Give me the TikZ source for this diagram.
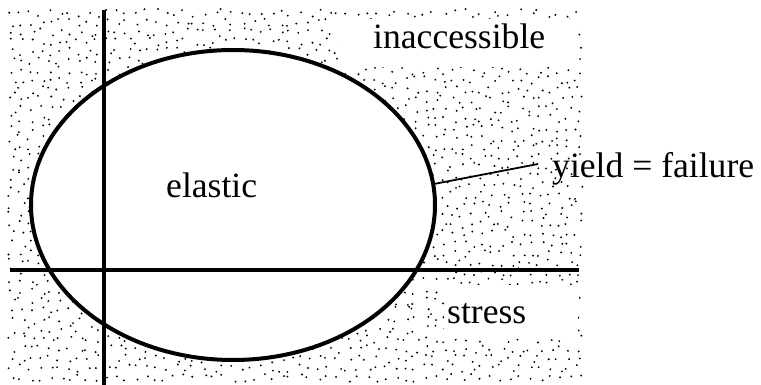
\documentclass[tikz,border=0pt]{standalone}
\usepackage{fontspec}
\setmainfont{Liberation Serif}
\usetikzlibrary{shapes.geometric}
\begin{document}
\begin{tikzpicture}[x=1pt,y=-1pt,
  lbl/.style={font=\fontsize{35.6}{40}\selectfont, inner sep=0pt},
  heavy/.style={line width=4pt},
  whitebox/.style={fill=white, draw=none}]
\useasboundingbox (0,0) rectangle (761,385);
% stipple (jittered grid)
\pgfmathsetseed{7}
\foreach \gx in {0,...,59}{
  \foreach \gy in {0,...,38}{
    \fill ({12+\gx*9.6+8*rnd-4},{13+\gy*9.6+8*rnd-4}) circle (1.05pt);
  }
}
% ellipse interior
\node[ellipse, minimum width=404pt, minimum height=310pt, inner sep=0pt, fill=white] (el) at (233,205) {};
% white label areas
\fill[whitebox] (338,19) rectangle (578,67);
\fill[whitebox] (444,285) rectangle (578,339);
\fill[whitebox] (584,0) rectangle (761,385);
% axes
\coordinate (hL) at (10,270);
\coordinate (hR) at (579,270);
\coordinate (vT) at (104,10);
\coordinate (vB) at (104,385);
\draw[heavy] (hL) -- (hR);
\draw[heavy] (vT) -- (vB);
% ellipse outline
\node[ellipse, minimum width=404pt, minimum height=310pt, inner sep=0pt, draw, heavy] (elo) at (233,205) {};
% labels
\node[lbl, anchor=base west] (inacc) at (373,49) {inaccessible};
\node[lbl, anchor=base west] (elastic) at (166,197) {elastic};
\node[lbl, anchor=base west] (stress) at (447,323) {stress};
\node[lbl, anchor=base west] (yield) at (552,178) {yield = failure};
\coordinate (lead) at (538,164);
\draw[line width=1.8pt] (elo.6.6) -- (lead);
\end{tikzpicture}
\end{document}
